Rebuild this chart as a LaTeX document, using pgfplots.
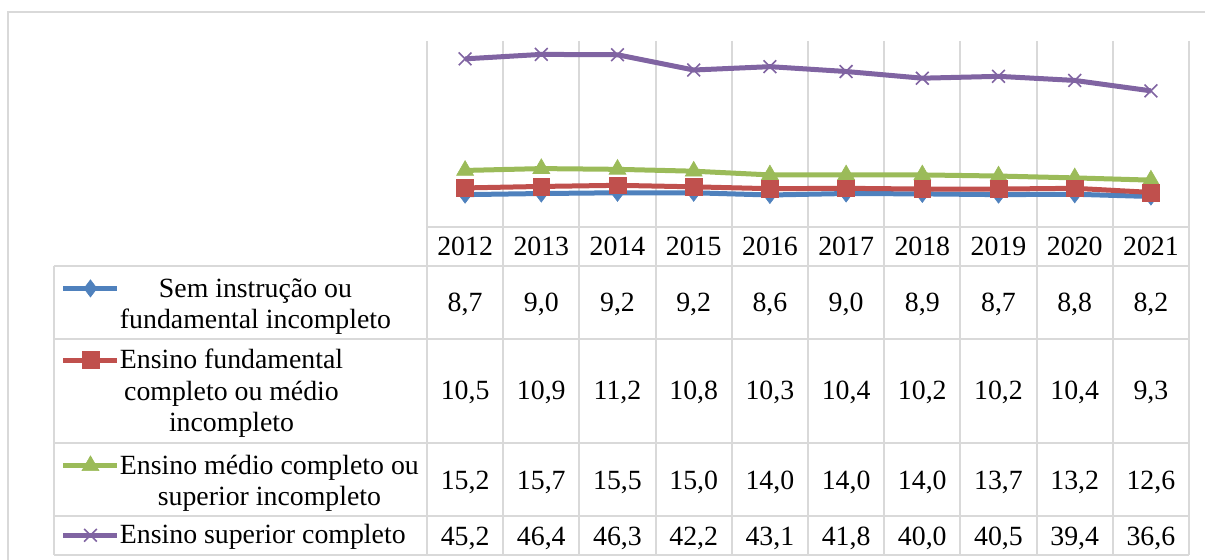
\documentclass[border=0pt]{standalone}
\usepackage{fontspec}
\setmainfont{Liberation Serif}
\usepackage{pgfplots}
\pgfplotsset{compat=1.18}
\definecolor{sBlue}{HTML}{4F81BD}
\definecolor{sRed}{HTML}{C0504D}
\definecolor{sGreen}{HTML}{9BBB59}
\definecolor{sPurple}{HTML}{8064A2}
\definecolor{gridc}{HTML}{D9D9D9}
\newcommand{\tabfont}{\fontsize{13.9bp}{15.75bp}\selectfont}
\newcommand{\lgtext}[2]{\raisebox{0pt}[#1][0pt]{\begin{tabular}[t]{@{}c@{}}#2\end{tabular}}}
\tikzset{
  sA/.style={color=sBlue, line width=2.5bp, mark=diamond*, mark size=4.3bp, mark options={solid, fill=sBlue, draw=sBlue, line width=0.3bp}},
  sB/.style={color=sRed, line width=2.5bp, mark=square*, mark size=4.2bp, mark options={solid, fill=sRed, draw=sRed, line width=0.3bp}},
  sC/.style={color=sGreen, line width=2.5bp, mark=triangle*, mark size=4.9bp, mark options={solid, fill=sGreen, draw=sGreen, line width=0.3bp}},
  sD/.style={color=sPurple, line width=2.5bp, mark=x, mark size=4.5bp, mark options={solid, draw=sPurple, line width=0.8bp}},
}
\begin{document}
\begin{tikzpicture}
% table grid and frame (pixel coordinates of the reference)
\begin{scope}[x=0.5bp,y=-0.5bp,shift={(-427,-227)}]
  \draw[gridc, line width=0.75bp] (8,700) -- (8,12) -- (1400,12);
  \foreach \k in {0,...,10} {\draw[gridc, line width=1bp] ({427+76.2*\k},41) -- ({427+76.2*\k},555);}
  \draw[gridc, line width=1bp] (427,227) -- (1189,227);
  \foreach \yy in {266,339,443,516,555} {\draw[gridc, line width=1bp] (54,\yy) -- (1189,\yy);}
  \draw[gridc, line width=1bp] (54,266) -- (54,555);
  \foreach \yr [count=\i from 0] in {2012,2013,2014,2015,2016,2017,2018,2019,2020,2021}
    {\node[anchor=base, font=\tabfont, inner sep=0pt] at ({465.1+76.2*\i},256) {\yr};}
  \foreach \v [count=\i from 0] in {{8,7},{9,0},{9,2},{9,2},{8,6},{9,0},{8,9},{8,7},{8,8},{8,2}}
    {\node[anchor=base, font=\tabfont, inner sep=0pt] at ({465.1+76.2*\i},312) {\v};}
  \foreach \v [count=\i from 0] in {{10,5},{10,9},{11,2},{10,8},{10,3},{10,4},{10,2},{10,2},{10,4},{9,3}}
    {\node[anchor=base, font=\tabfont, inner sep=0pt] at ({465.1+76.2*\i},400) {\v};}
  \foreach \v [count=\i from 0] in {{15,2},{15,7},{15,5},{15,0},{14,0},{14,0},{14,0},{13,7},{13,2},{12,6}}
    {\node[anchor=base, font=\tabfont, inner sep=0pt] at ({465.1+76.2*\i},489) {\v};}
  \foreach \v [count=\i from 0] in {{45,2},{46,4},{46,3},{42,2},{43,1},{41,8},{40,0},{40,5},{39,4},{36,6}}
    {\node[anchor=base, font=\tabfont, inner sep=0pt] at ({465.1+76.2*\i},545) {\v};}
\end{scope}
\begin{axis}[
  at={(0,0)}, anchor=south west,
  scale only axis, width=381bp, height=93bp,
  xmin=-0.5, xmax=9.5, ymin=0, ymax=50,
  hide axis, clip=false,
  legend style={at={(axis description cs:-0.48031,-0.2581)}, anchor=north west,
    draw=none, fill=none, inner sep=0pt, outer sep=0pt,
    row sep=0bp, column sep=0bp, font=\tabfont,
    nodes={inner sep=0pt, outer sep=0pt},
    cells={anchor=base west}},
  legend image code/.code={\draw[mark repeat=2,mark phase=2,#1,yshift=4.3bp] plot coordinates {(0bp,0bp) (13.5bp,0bp) (27bp,0bp)};},
]
\addlegendimage{sA}
\addlegendentry{\lgtext{11bp}{Sem instrução ou\\fundamental incompleto}}
\addlegendimage{sB}
\addlegendentry{\lgtext{34.35bp}{Ensino fundamental\\completo ou médio\\incompleto}}
\addlegendimage{sC}
\addlegendentry{\lgtext{51.3bp}{Ensino médio completo ou\\superior incompleto}}
\addlegendimage{sD}
\addlegendentry{\lgtext{33.3bp}{Ensino superior completo}}
\addplot[sA, forget plot] coordinates {(0,8.7) (1,9.0) (2,9.2) (3,9.2) (4,8.6) (5,9.0) (6,8.9) (7,8.7) (8,8.8) (9,8.2)};
\addplot[sC, forget plot] coordinates {(0,15.2) (1,15.7) (2,15.5) (3,15.0) (4,14.0) (5,14.0) (6,14.0) (7,13.7) (8,13.2) (9,12.6)};
\addplot[sB, forget plot] coordinates {(0,10.5) (1,10.9) (2,11.2) (3,10.8) (4,10.3) (5,10.4) (6,10.2) (7,10.2) (8,10.4) (9,9.3)};
\addplot[sD, forget plot] coordinates {(0,45.2) (1,46.4) (2,46.3) (3,42.2) (4,43.1) (5,41.8) (6,40.0) (7,40.5) (8,39.4) (9,36.6)};
\end{axis}
\pgfresetboundingbox
\begin{scope}[x=0.5bp,y=-0.5bp,shift={(-427,-227)}]
  \useasboundingbox (0,0) rectangle (1205,560);
\end{scope}
\end{tikzpicture}
\end{document}
